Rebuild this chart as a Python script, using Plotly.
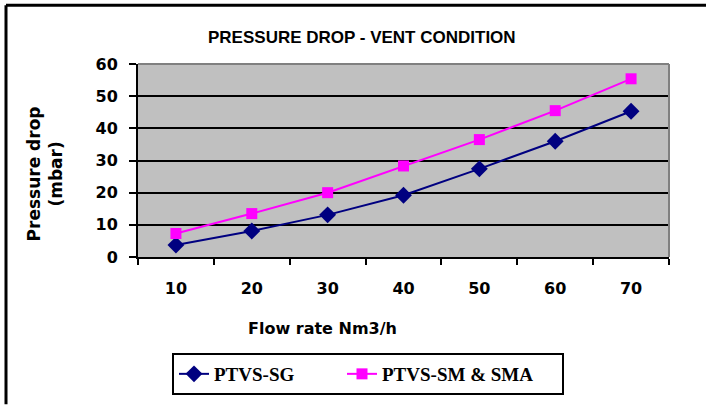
import plotly.graph_objects as go

categories = ["10", "20", "30", "40", "50", "60", "70"]
sg_values = [3.7, 8.1, 13.1, 19.2, 27.4, 36.0, 45.3]
sm_values = [7.3, 13.5, 20.0, 28.3, 36.5, 45.5, 55.4]
y_ticks = [0, 10, 20, 30, 40, 50, 60]
series_names = ["PTVS-SG", "PTVS-SM & SMA"]

W, H = 706, 405
L, R, T, B = 138, 669, 64, 258

def px(x):
    return (x - L) / (R - L)

def py(y):
    return (B - y) / (B - T)

NB = "&nbsp;"

fig = go.Figure()
fig.add_trace(go.Scatter(
    x=categories, y=sg_values, name=series_names[0] + NB * 9, mode="lines+markers",
    line=dict(color="#000080", width=2),
    marker=dict(symbol="diamond", size=13, color="#000080"),
))
fig.add_trace(go.Scatter(
    x=categories, y=sm_values, name=series_names[1] + NB * 5, mode="lines+markers",
    line=dict(color="#FF00FF", width=2),
    marker=dict(symbol="square", size=11, color="#FF00FF"),
))

tick_font = dict(family="DejaVu Sans", size=16, color="black", weight="bold")

fig.update_layout(
    width=W, height=H, autosize=False,
    margin=dict(l=L, r=W - R, t=T, b=H - B, pad=0),
    paper_bgcolor="white", plot_bgcolor="#C0C0C0",
    showlegend=True,
    legend=dict(
        orientation="h", x=px(172), y=py(353), xanchor="left", yanchor="top",
        bordercolor="black", borderwidth=2, bgcolor="white",
        font=dict(family="Liberation Serif", size=19, color="black", weight="bold"),
    ),
    xaxis=dict(
        type="category", categoryorder="array", categoryarray=categories,
        tickson="boundaries", ticks="outside", ticklen=6, tickwidth=2, tickcolor="black",
        showline=True, linecolor="black", linewidth=2, showgrid=False,
        tickfont=tick_font, ticklabelstandoff=16,
        range=[-0.5, 6.5], fixedrange=True,
    ),
    yaxis=dict(
        range=[0, 60], tickvals=y_ticks, ticks="outside", ticklen=7, tickwidth=2,
        tickcolor="black", showline=True, linecolor="black", linewidth=2,
        showgrid=True, gridcolor="black", gridwidth=1.5, zeroline=False,
        tickfont=tick_font, ticklabelstandoff=8,
    ),
    annotations=[
        dict(text="PRESSURE DROP - VENT CONDITION", x=px(362), y=py(37),
             xref="paper", yref="paper", showarrow=False,
             xanchor="center", yanchor="middle",
             font=dict(family="Liberation Sans", size=17, color="black", weight="bold")),
        dict(text="Pressure drop<br>(mbar)", x=px(45), y=py(175),
             xref="paper", yref="paper", showarrow=False, textangle=-90,
             xanchor="center", yanchor="middle",
             font=dict(family="DejaVu Sans", size=17, color="black", weight="bold")),
        dict(text="Flow rate Nm3/h", x=px(322), y=py(330),
             xref="paper", yref="paper", showarrow=False,
             xanchor="center", yanchor="middle",
             font=dict(family="DejaVu Sans", size=16, color="black", weight="bold")),
    ],
    shapes=[
        dict(type="line", xref="paper", yref="paper", x0=0, x1=1, y0=1, y1=1,
             line=dict(color="#808080", width=2)),
        dict(type="line", xref="paper", yref="paper", x0=1, x1=1, y0=0, y1=1,
             line=dict(color="#808080", width=2)),
        dict(type="line", xref="paper", yref="paper", x0=px(6), x1=px(706), y0=py(5), y1=py(5),
             line=dict(color="black", width=3)),
        dict(type="line", xref="paper", yref="paper", x0=px(6), x1=px(6), y0=py(5), y1=py(406),
             line=dict(color="black", width=3)),
    ],
)

fig.write_html("out.html", config={"displayModeBar": False},
               post_script="document.body.style.margin='0';")
